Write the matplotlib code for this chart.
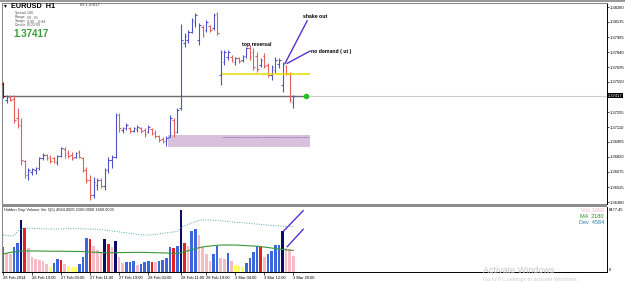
import matplotlib
matplotlib.use("Agg")
from matplotlib import pyplot as plt
from matplotlib.patches import Rectangle
from matplotlib.transforms import blended_transform_factory
import numpy as np

plt.rcParams['font.family'] = ['Liberation Sans', 'DejaVu Sans']

W, H = 625, 282

# EURUSD H1, 26 Feb 2014 - 3 Mar 2014
opens = [1.37530, 1.37374, 1.37403, 1.37384, 1.37199, 1.37130, 1.36780, 1.36643, 1.36673, 1.36692,
         1.36712, 1.36809, 1.36838, 1.36819, 1.36809, 1.36770, 1.36829, 1.36897, 1.36858, 1.36838,
         1.36819, 1.36868, 1.36809, 1.36692, 1.36595, 1.36449, 1.36546, 1.36595, 1.36536, 1.36692,
         1.36790, 1.36819, 1.37228, 1.37082, 1.37101, 1.37101, 1.37072, 1.37092, 1.37101, 1.37082,
         1.37062, 1.37092, 1.37053, 1.37023, 1.36994, 1.36975, 1.37014, 1.37179, 1.37062, 1.37296,
         1.37929, 1.37958, 1.38036, 1.38134, 1.37958, 1.38085, 1.38056, 1.38095, 1.38075, 1.38212,
         1.37617, 1.37744, 1.37793, 1.37793, 1.37744, 1.37783, 1.37764, 1.37803, 1.37880, 1.37842,
         1.37803, 1.37715, 1.37803, 1.37715, 1.37617, 1.37666, 1.37725, 1.37520, 1.37705, 1.37627,
         1.37355]
highs = [1.37549, 1.37423, 1.37423, 1.37423, 1.37296, 1.37199, 1.36790, 1.36712, 1.36712, 1.36721,
         1.36819, 1.36858, 1.36848, 1.36838, 1.36819, 1.36838, 1.36916, 1.36916, 1.36887, 1.36868,
         1.36868, 1.36887, 1.36819, 1.36721, 1.36643, 1.36624, 1.36614, 1.36614, 1.36712, 1.36819,
         1.36838, 1.37247, 1.37247, 1.37111, 1.37150, 1.37111, 1.37111, 1.37130, 1.37111, 1.37101,
         1.37130, 1.37101, 1.37082, 1.37033, 1.37014, 1.37023, 1.37228, 1.37199, 1.37296, 1.38114,
         1.38027, 1.38056, 1.38173, 1.38221, 1.38124, 1.38104, 1.38153, 1.38104, 1.38221, 1.38231,
         1.37861, 1.37861, 1.37861, 1.37812, 1.37793, 1.37793, 1.37812, 1.37890, 1.37910, 1.37880,
         1.37842, 1.37783, 1.37832, 1.37734, 1.37715, 1.37793, 1.37783, 1.37744, 1.37715, 1.37647,
         1.37423]
lows = [1.37393, 1.37345, 1.37364, 1.37150, 1.37101, 1.36741, 1.36614, 1.36595, 1.36643, 1.36653,
        1.36692, 1.36790, 1.36790, 1.36760, 1.36760, 1.36741, 1.36819, 1.36809, 1.36809, 1.36790,
        1.36809, 1.36809, 1.36673, 1.36566, 1.36400, 1.36419, 1.36497, 1.36517, 1.36497, 1.36663,
        1.36712, 1.36809, 1.37062, 1.37053, 1.37082, 1.37053, 1.37062, 1.37062, 1.37053, 1.37014,
        1.37053, 1.37033, 1.37004, 1.36965, 1.36955, 1.36926, 1.37014, 1.37014, 1.37053, 1.37277,
        1.37890, 1.37929, 1.38027, 1.38085, 1.37910, 1.37988, 1.38036, 1.38036, 1.38056, 1.38007,
        1.37520, 1.37715, 1.37764, 1.37744, 1.37715, 1.37734, 1.37744, 1.37783, 1.37764, 1.37666,
        1.37647, 1.37695, 1.37686, 1.37598, 1.37569, 1.37637, 1.37686, 1.37452, 1.37617, 1.37355,
        1.37296]
closes = [1.37413, 1.37403, 1.37374, 1.37179, 1.37130, 1.36790, 1.36643, 1.36692, 1.36702, 1.36712,
          1.36809, 1.36838, 1.36809, 1.36780, 1.36770, 1.36829, 1.36906, 1.36838, 1.36829, 1.36809,
          1.36858, 1.36819, 1.36692, 1.36595, 1.36449, 1.36575, 1.36595, 1.36536, 1.36692, 1.36790,
          1.36819, 1.37228, 1.37101, 1.37101, 1.37130, 1.37072, 1.37101, 1.37111, 1.37072, 1.37043,
          1.37111, 1.37053, 1.37023, 1.36984, 1.36975, 1.37004, 1.37199, 1.37062, 1.37277, 1.37958,
          1.37997, 1.38036, 1.38153, 1.38202, 1.38104, 1.38007, 1.38134, 1.38056, 1.38202, 1.38027,
          1.37842, 1.37842, 1.37842, 1.37764, 1.37783, 1.37754, 1.37803, 1.37880, 1.37793, 1.37695,
          1.37676, 1.37764, 1.37705, 1.37617, 1.37695, 1.37764, 1.37764, 1.37725, 1.37637, 1.37374,
          1.37417]

# Hidden Gap Volume sub window
volumes = [2560, 1950, 1820, 2560, 2960, 5250, 4410, 2390, 1490, 1290,
           1210, 1110, 810, 530, 940, 1290, 1210, 810, 600, 530,
           530, 810, 1550, 3400, 3330, 2660, 2220, 1950, 3300, 2830,
           2560, 3160, 1490, 880, 1040, 1040, 1110, 700, 770, 1040,
           1110, 1040, 980, 1070, 1210, 1390, 2560, 2390, 2630, 6260,
           2960, 2630, 4170, 4310, 3730, 2560, 1820, 1150, 1820, 2630,
           1390, 1290, 1880, 1150, 700, 600, 530, 880, 1390, 2050,
           2630, 2490, 1490, 1820, 2150, 2730, 2730, 4170, 2390, 2290,
           1660]
vol_kind = ("bppbbnrppp" "pppybbrpyy" "ybbbrpppnr" "pnppbbbpbb" "brpbbbbrbn"
            "rpbbppppbb" "ppbpyyybbb" "brpbbbbnpp" "p")
vol_ma = [1820, 1900, 1980, 2020,
          2080, 2120, 2130, 2130, 2130, 2120, 2120, 2110, 2110, 2100, 2100, 2100, 2100, 2090, 2090,
          2080, 2080, 2070, 2060,
          2040, 2020, 2000, 1980, 1960, 1950, 1940, 1940,
          1950, 1960, 1960, 1970, 1970, 1980, 1980, 1980, 1980, 1970, 1960, 1950, 1940, 1930, 1920,
          1900, 1880, 1870,
          1950, 2050, 2150, 2250, 2350, 2450, 2530,
          2580, 2620, 2660, 2700, 2720, 2730, 2730,
          2730, 2720, 2700, 2680, 2660, 2640, 2620, 2600,
          2560, 2520, 2470, 2420, 2370, 2320,
          2280, 2240, 2210, 2180]
vol_dev = [3740, 3700, 3640,
           3700, 4100, 4400, 4440,
           4420, 4400, 4380, 4370, 4360, 4350, 4340, 4330, 4340, 4350, 4360, 4370, 4380, 4380, 4370,
           4360, 4350, 4340, 4330, 4320, 4300,
           4250, 4200, 4150, 4100, 4050, 4000, 3950, 3900, 3850, 3800, 3760, 3740, 3730,
           3760, 3800, 3850, 3900, 3950, 4000, 4050, 4100,
           4500, 4650, 4800, 4950, 5100, 5200, 5250, 5250,
           5250, 5230, 5200, 5170, 5140, 5100, 5060, 5030, 5000, 4970,
           4940, 4900, 4870, 4840, 4800, 4770, 4740, 4710, 4680, 4650, 4620, 4600, 4590, 4584]

time_labels = ["26 Feb 2014", "26 Feb 19:00", "27 Feb 03:00", "27 Feb 11:00", "27 Feb 19:00",
               "28 Feb 03:00", "28 Feb 11:00", "28 Feb 19:00", "3 Mar 04:00", "3 Mar 12:00",
               "3 Mar 20:00"]
label_bars = [0, 8, 16, 24, 32, 40, 49, 56, 64, 72, 80]

price_ticks = [1.38280, 1.38135, 1.37985, 1.37840, 1.37695, 1.37550, 1.37255, 1.37110,
               1.36965, 1.36820, 1.36675, 1.36525, 1.36380]
last_price = 1.37417

# objects drawn on the chart (bar index, price)
zone_bars = [45.5, 84.6]
zone_prices = [1.36916, 1.37033]
zone_mid = 1.37014
level_bars = [60.3, 84.6]
level_price = 1.37627
shake_bars, shake_prices = [77.7, 83.8], [1.37731, 1.38146]
nodem_bars, nodem_prices = [78.3, 84.6], [1.37731, 1.37851]
vol_line1_bars, vol_line1 = [77.4, 82.7], [4170, 6190]
vol_line2_bars, vol_line2 = [78.3, 82.7], [2560, 4310]
dot_bar = 83.5

kind_colors = {'b': '#3b66dc', 'n': '#0c0c66', 'r': '#e3211f', 'p': '#f6bcc6', 'y': '#ffff5a'}


def fx(px):
    return px / W


def fy(py):
    return 1 - py / H


fig = plt.figure(figsize=(W / 100, H / 100), dpi=100)
fig.patch.set_facecolor('white')

ax = fig.add_axes([fx(2), fy(204), fx(605), 201 / H])
ax2 = fig.add_axes([fx(2), fy(272), fx(605), 65 / H])
xlim = (-0.28, 166.4)

# --- price window ---
x = np.arange(len(opens))
o = np.array(opens)
c = np.array(closes)
bar_col = np.where(c >= o, '#5252c8', '#e2605c').astype(object)
bar_col[0] = '#8a1010'

ax.add_patch(Rectangle((zone_bars[0], zone_prices[0]), zone_bars[1] - zone_bars[0],
                       zone_prices[1] - zone_prices[0], fc='#d9c0dd', ec='none', zorder=0.5))
ax.hlines(zone_mid, level_bars[0], zone_bars[1] - 0.3, colors='#7a5a9a', linestyles=(0, (1, 1)),
          lw=0.6, zorder=1)
ax.axhline(last_price, color='#cccccc', lw=0.8, zorder=1)
ax.hlines(last_price, xlim[0], dot_bar, colors='#6e6e6e', lw=1.0, zorder=1.2)

ax.vlines(x, lows, highs, colors=bar_col, lw=0.8, zorder=3)
ax.hlines(o, x - 0.45, x, colors=bar_col, lw=0.8, zorder=3)
ax.hlines(c, x, x + 0.45, colors=bar_col, lw=0.8, zorder=3)

ax.hlines(level_price, level_bars[0], level_bars[1], colors='#e8dc00', lw=1.1, zorder=4)
ax.plot(shake_bars, shake_prices, color='#5a2fd0', lw=1.0, zorder=5)
ax.plot(nodem_bars, nodem_prices, color='#5a2fd0', lw=1.0, zorder=5)
ax.plot(dot_bar, last_price, 'o', color='#22c322', ms=3, zorder=6)

ax.text(65.8, 1.37919, "top reversal", fontsize=3.7, fontweight='bold', va='center', ha='left')
ax.text(82.6, 1.38192, "shake out", fontsize=3.7, fontweight='bold', va='center', ha='left')
ax.text(84.8, 1.37851, "no demand ( ut )", fontsize=3.7, fontweight='bold', va='center', ha='left')

ax.set_xlim(*xlim)
ax.set_ylim(1.36361, 1.38319)
ax.set_xticks([])
ax.yaxis.tick_right()
ax.set_yticks(price_ticks)
ax.set_yticklabels(["%.5f" % p for p in price_ticks])
ax.tick_params(axis='y', direction='out', length=1.5, width=0.5, labelsize=3.0, pad=0.4)
trans = blended_transform_factory(ax.transAxes, ax.transData)
ax.text(1.0015, last_price, "%.5f" % last_price, transform=trans, fontsize=3.0, color='white',
        va='center', ha='left', bbox=dict(fc='black', ec='none', pad=0.5))
for side in ['top', 'left']:
    ax.spines[side].set_color('#8a8a8a')
ax.spines['right'].set_color('black')
ax.spines['right'].set_linewidth(0.7)
ax.spines['bottom'].set_visible(False)

# --- volume window ---
ax2.bar(x, volumes, width=0.72, color=[kind_colors[k] for k in vol_kind], lw=0, zorder=2)
ax2.plot(x, vol_dev, color='#52a8a0', lw=0.7, ls=(0, (1, 1.5)), zorder=3)
ax2.plot(x, vol_ma, color='#3a963a', lw=0.8, zorder=3)
ax2.plot(vol_line1_bars, vol_line1, color='#5a2fd0', lw=1.0, zorder=4)
ax2.plot(vol_line2_bars, vol_line2, color='#5a2fd0', lw=1.0, zorder=4)

ax2.set_xlim(*xlim)
ax2.set_ylim(0, 6565)
ax2.set_yticks([])
ax2.set_xticks(label_bars)
ax2.set_xticklabels(time_labels, ha='left')
ax2.tick_params(axis='x', direction='out', length=2, width=0.5, labelsize=2.9, pad=0.8)
ax2.text(0.003, 0.955, "Hidden Gap Volume Ver 5(5) 4584.0000 2180.0000 1660.0000",
         transform=ax2.transAxes, fontsize=2.9, va='center', ha='left', color='#222222')
ax2.text(0.995, 0.95, "Vol: 1660", transform=ax2.transAxes, fontsize=4, color='#f4b4c4',
         va='center', ha='right')
ax2.text(0.995, 0.86, "MA  2180", transform=ax2.transAxes, fontsize=4, color='#2a8a2a',
         va='center', ha='right')
ax2.text(0.995, 0.76, "Dev  4584", transform=ax2.transAxes, fontsize=4, color='#2a7fa8',
         va='center', ha='right')
ax2.text(1.003, 0.96, "8477.45", transform=ax2.transAxes, fontsize=2.9, va='center', ha='left')
ax2.text(1.003, 0.03, "0", transform=ax2.transAxes, fontsize=2.9, va='center', ha='left')
ax2.spines['left'].set_color('#8a8a8a')
ax2.spines['top'].set_visible(False)
for side in ['right', 'bottom']:
    ax2.spines[side].set_color('black')
    ax2.spines[side].set_linewidth(0.7)

# separator between the windows and outer frame
fig.add_artist(Rectangle((fx(2), fy(207)), fx(605), 3 / H, transform=fig.transFigure,
                         fc='#8c8c8c', ec='none'))
fig.add_artist(Rectangle((0, fy(1.5)), 1, 1.5 / H, transform=fig.transFigure,
                         fc='#9a9a9a', ec='none'))

# chart header
fig.text(fx(3.5), fy(5.5), "\u25be", fontsize=4, va='center', ha='left', family=['DejaVu Sans'])
fig.text(fx(11), fy(6.7), "EURUSD  H1", fontsize=5.2, fontweight='bold', va='center', ha='left')
fig.text(fx(80), fy(5.3), "03 1.37417", fontsize=2.8, va='center', ha='left', color='#333333')
info = [("Spread", "1.00"), ("Range", "59 , 61"), ("Swaps", "0.00 , -0.84"), ("Candle", "00:22:09")]
for i, (k, v) in enumerate(info):
    yy = 13.3 + i * 4.0
    fig.text(fx(15), fy(yy), k, fontsize=2.6, va='center', ha='left', color='#555555')
    fig.text(fx(27), fy(yy), v, fontsize=2.6, va='center', ha='left', color='#555555')
fig.text(fx(13), fy(34), "%.5f" % last_price, fontsize=7, fontweight='bold', va='center',
         ha='left', color='#3c9a3c')

fig.text(fx(483), fy(270.5), "Activate Windows", fontsize=6.5, va='center', ha='left',
         color='#c4c4c4')
fig.text(fx(483), fy(279.5), "Go to PC settings to activate Windows.", fontsize=4.0, va='center',
         ha='left', color='#cfcfcf')

fig.savefig("out.png", dpi=100)
